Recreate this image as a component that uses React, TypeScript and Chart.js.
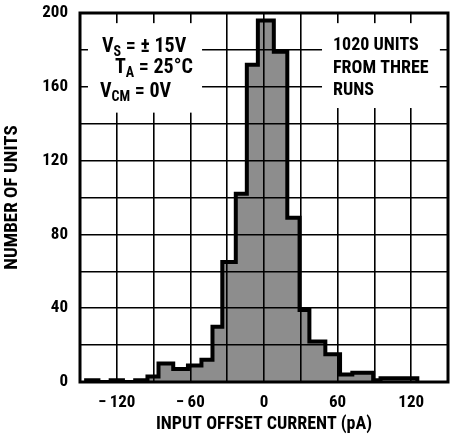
import { useEffect, useRef } from 'react';
import { Chart, registerables } from 'chart.js';

Chart.register(...registerables);

// Histogram bins (pA) and number of units in each bin
const binEdges = [-145, -135, -125, -115, -105, -95, -86, -74, -62, -51, -42, -34, -23, -14, -5, 8, 19, 29, 37, 50, 62, 72, 89, 95, 125];
const unitCounts = [1, 0, 1, 0, 1, 3, 10, 7, 9, 12, 30, 65, 102, 172, 196, 179, 89, 39, 22, 15, 4, 5, 1, 2];

const xLabelValues = [-120, -60, 0, 60, 120];
const yLabelValues = [0, 40, 80, 120, 160, 200];

const noteRight = ['1020 UNITS', 'FROM THREE', 'RUNS'];

const FAMILY = 'Roboto, sans-serif';
const WEIGHT = 'bold condensed';

const zeroPad = (s: any) => {
  s.paddingTop = 0;
  s.paddingBottom = 0;
  s.paddingLeft = 0;
  s.paddingRight = 0;
};

export default function App() {
  const ref = useRef<HTMLCanvasElement>(null);

  useEffect(() => {
    if (!ref.current) return;
    const n = binEdges.length;
    const pts: { x: number; y: number }[] = [{ x: binEdges[0], y: 0 }];
    unitCounts.forEach((c, i) => pts.push({ x: binEdges[i], y: c }));
    pts.push({ x: binEdges[n - 1], y: 0 });

    const framePlugin = {
      id: 'frame',
      afterDraw(chart: any) {
        const { ctx, chartArea: a, scales } = chart;
        const xs = scales.x, ys = scales.y;
        ctx.save();
        ctx.fillStyle = '#fff';
        const box = (x0: number, x1: number, y0: number, y1: number) => {
          const l = xs.getPixelForValue(x0), r = xs.getPixelForValue(x1);
          const t = ys.getPixelForValue(y1), b = ys.getPixelForValue(y0);
          ctx.fillRect(l, t, r - l, b - t);
        };
        box(-143.5, -50.5, 146, 194.5);
        box(47.3, 143.4, 148.5, 194.5);

        ctx.strokeStyle = '#000';
        ctx.lineWidth = 3;
        ctx.strokeRect(a.left, a.top, a.right - a.left, a.bottom - a.top);

        ctx.fillStyle = '#000';
        ctx.textBaseline = 'alphabetic';
        ctx.textAlign = 'left';
        const big = `${WEIGHT} 20px ${FAMILY}`;
        const sub = `${WEIGHT} 14px ${FAMILY}`;
        const seg = (parts: [string, boolean][], x: number, y: number) => {
          let cx = x;
          for (const [t, isSub] of parts) {
            ctx.font = isSub ? sub : big;
            ctx.fillText(t, cx, isSub ? y + 4 : y);
            cx += ctx.measureText(t).width;
          }
        };
        const L = a.left, T = a.top;
        seg([['V', false], ['S', true], [' = ± 15V', false]], L + 22, T + 39);
        seg([['T', false], ['A', true], [' = 25°C', false]], L + 35, T + 60);
        seg([['V', false], ['CM', true], [' = 0V', false]], L + 20, T + 84);

        ctx.font = `${WEIGHT} 18px ${FAMILY}`;
        noteRight.forEach((s, i) => ctx.fillText(s, L + 253, T + 37 + i * 22.5));
        ctx.restore();
      },
    };

    const chart = new Chart(ref.current, {
      type: 'line',
      data: {
        datasets: [
          {
            data: pts,
            stepped: 'before',
            borderColor: '#000',
            borderWidth: 4,
            backgroundColor: '#8d8d8d',
            fill: 'origin',
            pointRadius: 0,
            borderJoinStyle: 'miter',
          },
        ],
      },
      options: {
        animation: false,
        responsive: false,
        parsing: false,
        layout: { padding: { top: 13, right: 3, left: 0, bottom: 0 } },
        plugins: { legend: { display: false }, tooltip: { enabled: false } },
        scales: {
          x: {
            type: 'linear',
            min: -150,
            max: 150,
            afterFit: (s: any) => { s.height = 62; zeroPad(s); },
            grid: { color: '#000', lineWidth: 1.6, drawTicks: false, z: 1 },
            border: { display: false },
            ticks: {
              stepSize: 30,
              padding: 11,
              autoSkip: false,
              maxRotation: 0,
              minRotation: 0,
              color: '#000',
              font: { family: FAMILY, size: 17, weight: WEIGHT as any },
              callback: (v: any) => (xLabelValues.includes(Number(v)) ? (Number(v) < 0 ? '\u2212\u2009' + Math.abs(Number(v)) : String(v)) : ''),
            },
            title: {
              display: true,
              text: 'INPUT OFFSET CURRENT (pA)',
              color: '#000',
              font: { family: FAMILY, size: 18, weight: WEIGHT as any },
              padding: { top: 0, bottom: 9 },
            },
          },
          y: {
            min: 0,
            max: 200,
            afterFit: (s: any) => { s.width = 80; zeroPad(s); },
            grid: { color: '#000', lineWidth: 1.6, drawTicks: false, z: 1 },
            border: { display: false },
            ticks: {
              stepSize: 20,
              padding: 12,
              autoSkip: false,
              color: '#000',
              font: { family: FAMILY, size: 17, weight: WEIGHT as any },
              callback: (v: any) => (yLabelValues.includes(Number(v)) ? String(v) : ''),
            },
            title: {
              display: true,
              text: 'NUMBER OF UNITS',
              color: '#000',
              font: { family: FAMILY, size: 19, weight: WEIGHT as any },
              padding: { top: 1, bottom: 0 },
            },
          },
        },
      },
      plugins: [framePlugin],
    });
    return () => chart.destroy();
  }, []);

  return (
    <div style={{ position: 'fixed', left: 0, top: 0, width: 451, height: 444, background: '#fff' }}>
      <canvas ref={ref} width={451} height={444} style={{ width: 451, height: 444, display: 'block' }} />
    </div>
  );
}
